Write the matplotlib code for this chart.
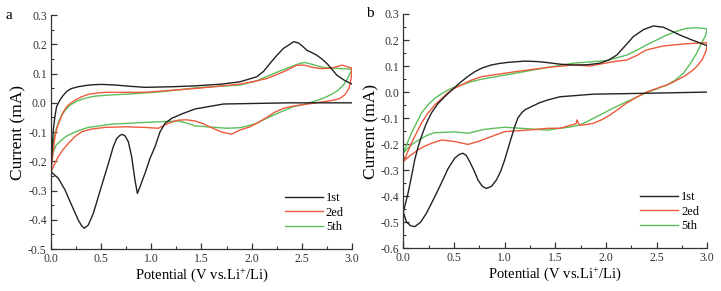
import matplotlib
matplotlib.use('Agg')
import matplotlib.pyplot as plt
from matplotlib.ticker import MultipleLocator, FormatStrFormatter

plt.rcParams['font.family'] = ['Liberation Serif', 'DejaVu Serif']
plt.rcParams['mathtext.default'] = 'regular'

# panel a: each cycle swept 3.0 -> 0.0 (cathodic) then 0.0 -> 3.0 (anodic)
a_1st_v = [3.0, 2.38, 1.72, 1.436, 1.303, 1.203, 1.137, 1.087, 1.037, 0.987, 0.937, 0.887,
           0.861, 0.837, 0.804, 0.771, 0.738, 0.711, 0.688, 0.655, 0.621, 0.572, 0.522,
           0.472, 0.422, 0.372, 0.332, 0.306, 0.272, 0.206, 0.14, 0.073, 0.03, 0.0,
           0.01, 0.023, 0.04, 0.056, 0.09, 0.123, 0.16, 0.206, 0.27, 0.339, 0.42, 0.505,
           0.64, 0.771, 0.937, 1.2, 1.436, 1.7, 1.884, 2.05, 2.12, 2.183, 2.25, 2.316,
           2.38, 2.416, 2.466, 2.51, 2.549, 2.6, 2.649, 2.7, 2.749, 2.8, 2.848, 2.92, 3.0]
a_1st_i = [0.0, 0.0, -0.004, -0.021, -0.038, -0.053, -0.070, -0.099, -0.150, -0.190, -0.241, -0.287,
           -0.310, -0.264, -0.184, -0.133, -0.113, -0.108, -0.111, -0.122, -0.150, -0.208, -0.264,
           -0.321, -0.378, -0.418, -0.429, -0.421, -0.401, -0.350, -0.298, -0.258, -0.245, -0.236,
           -0.17, -0.093, -0.045, -0.013, 0.010, 0.026, 0.040, 0.049, 0.055, 0.059, 0.062, 0.063,
           0.061, 0.057, 0.053, 0.055, 0.058, 0.064, 0.072, 0.089, 0.108, 0.135, 0.162, 0.186,
           0.200, 0.209, 0.205, 0.193, 0.180, 0.172, 0.163, 0.150, 0.135, 0.115, 0.095, 0.078, 0.064]

a_2ed_v = [3.0, 2.99, 2.97, 2.93, 2.88, 2.80, 2.715, 2.60, 2.48, 2.40, 2.316, 2.23, 2.15,
           2.07, 1.984, 1.884, 1.80, 1.70, 1.60, 1.52, 1.436, 1.35, 1.27, 1.17, 1.07, 0.937,
           0.738, 0.538, 0.40, 0.306, 0.24, 0.173, 0.12, 0.073, 0.035, 0.0,
           0.02, 0.04, 0.06, 0.09, 0.12, 0.156, 0.2, 0.239, 0.3, 0.372, 0.45, 0.538, 0.937,
           1.436, 1.884, 2.02, 2.15, 2.23, 2.316, 2.40, 2.45, 2.52, 2.615, 2.70, 2.78,
           2.85, 2.90, 2.95, 3.0]
a_2ed_i = [0.118, 0.08, 0.05, 0.028, 0.015, 0.008, 0.004, -0.002, -0.008, -0.012, -0.019, -0.032, -0.050,
           -0.066, -0.082, -0.093, -0.107, -0.100, -0.085, -0.072, -0.062, -0.058, -0.059, -0.070, -0.087, -0.084,
           -0.082, -0.084, -0.090, -0.099, -0.115, -0.139, -0.160, -0.184, -0.21, -0.236,
           -0.17, -0.116, -0.085, -0.059, -0.033, -0.013, 0.0, 0.009, 0.020, 0.029, 0.033, 0.036, 0.036,
           0.049, 0.064, 0.073, 0.083, 0.094, 0.106, 0.120, 0.129, 0.129, 0.121, 0.117, 0.118,
           0.124, 0.129, 0.124, 0.118]

a_5th_v = [3.0, 2.98, 2.95, 2.915, 2.85, 2.78, 2.70, 2.615, 2.52, 2.416, 2.32, 2.217, 2.13,
           2.05, 1.96, 1.884, 1.75, 1.60, 1.436, 1.35, 1.27, 0.937, 0.605, 0.372, 0.29, 0.206,
           0.15, 0.106, 0.05, 0.0,
           0.02, 0.04, 0.07, 0.106, 0.15, 0.19, 0.25, 0.306, 0.37, 0.439, 0.6, 0.771, 1.104,
           1.436, 1.884, 2.05, 2.217, 2.35, 2.48, 2.53, 2.62, 2.715, 2.85, 3.0]
a_5th_i = [0.115, 0.10, 0.08, 0.061, 0.04, 0.026, 0.014, 0.004, -0.005, -0.013, -0.027, -0.042, -0.056,
           -0.070, -0.079, -0.085, -0.087, -0.083, -0.079, -0.069, -0.062, -0.067, -0.073, -0.084, -0.093, -0.105,
           -0.115, -0.127, -0.145, -0.19,
           -0.14, -0.105, -0.070, -0.042, -0.022, -0.008, 0.004, 0.012, 0.018, 0.023, 0.027, 0.030, 0.038,
           0.051, 0.061, 0.075, 0.100, 0.118, 0.135, 0.138, 0.130, 0.121, 0.118, 0.115]

# panel b
b_1st_v = [3.0, 2.34, 1.875, 1.546, 1.428, 1.35, 1.263, 1.2, 1.165, 1.13, 1.099, 1.05,
           1.0, 0.96, 0.918, 0.87, 0.819, 0.78, 0.737, 0.70, 0.655, 0.62, 0.589, 0.55,
           0.507, 0.44, 0.375, 0.30, 0.227, 0.17, 0.112, 0.07, 0.03, 0.0,
           0.02, 0.046, 0.08, 0.112, 0.145, 0.178, 0.225, 0.276, 0.34, 0.408, 0.49, 0.572,
           0.64, 0.704, 0.78, 0.868, 0.95, 1.033, 1.198, 1.33, 1.428, 1.55, 1.678, 1.82,
           1.941, 2.03, 2.106, 2.19, 2.27, 2.37, 2.467, 2.566, 2.65, 2.73, 2.85, 3.0]
b_1st_i = [0.0, -0.005, -0.008, -0.018, -0.030, -0.040, -0.056, -0.068, -0.081, -0.100, -0.133, -0.195,
           -0.261, -0.305, -0.338, -0.362, -0.370, -0.362, -0.338, -0.303, -0.267, -0.243, -0.235, -0.240,
           -0.254, -0.295, -0.350, -0.410, -0.466, -0.500, -0.517, -0.513, -0.498, -0.46,
           -0.43, -0.389, -0.325, -0.261, -0.212, -0.171, -0.122, -0.081, -0.045, -0.018, 0.012, 0.040,
           0.061, 0.078, 0.093, 0.104, 0.110, 0.114, 0.119, 0.117, 0.113, 0.107, 0.104, 0.105,
           0.111, 0.124, 0.142, 0.178, 0.213, 0.240, 0.254, 0.249, 0.234, 0.219, 0.200, 0.178]

b_2ed_v = [3.0, 2.99, 2.95, 2.90, 2.86, 2.78, 2.70, 2.62, 2.53, 2.40, 2.30, 2.20, 2.12,
           2.04, 1.96, 1.875, 1.80, 1.74, 1.712, 1.705, 1.69, 1.546, 1.428, 1.263, 1.0,
           0.868, 0.737, 0.638, 0.507, 0.375, 0.276, 0.21, 0.145, 0.07, 0.0,
           0.04, 0.079, 0.13, 0.178, 0.24, 0.31, 0.38, 0.441, 0.5, 0.572, 0.66, 0.77,
           1.099, 1.428, 1.678, 1.842, 2.072, 2.204, 2.30, 2.40, 2.566, 2.763, 3.0]
b_2ed_i = [0.19, 0.16, 0.125, 0.10, 0.085, 0.062, 0.046, 0.030, 0.018, 0.0, -0.020, -0.043, -0.066,
           -0.088, -0.106, -0.120, -0.125, -0.127, -0.107, -0.122, -0.123, -0.139, -0.139, -0.145, -0.152,
           -0.171, -0.190, -0.201, -0.190, -0.184, -0.197, -0.208, -0.222, -0.243, -0.267,
           -0.232, -0.197, -0.157, -0.120, -0.082, -0.050, -0.024, -0.002, 0.013, 0.027, 0.044, 0.059,
           0.078, 0.095, 0.104, 0.100, 0.117, 0.123, 0.140, 0.162, 0.177, 0.185, 0.19]

b_5th_v = [3.0, 2.98, 2.94, 2.895, 2.83, 2.763, 2.68, 2.60, 2.5, 2.40, 2.29, 2.17, 2.05,
           1.941, 1.84, 1.744, 1.65, 1.546, 1.428, 1.0, 0.803, 0.638, 0.507, 0.31, 0.24,
           0.178, 0.12, 0.079, 0.04, 0.0,
           0.04, 0.079, 0.13, 0.178, 0.24, 0.31, 0.38, 0.441, 0.5, 0.572, 0.66, 0.77,
           1.099, 1.428, 1.678, 2.007, 2.204, 2.30, 2.40, 2.50, 2.60, 2.70, 2.797, 2.9, 3.0]
b_5th_i = [0.243, 0.215, 0.185, 0.149, 0.108, 0.072, 0.045, 0.027, 0.012, -0.002, -0.022, -0.043, -0.066,
           -0.088, -0.108, -0.126, -0.134, -0.139, -0.146, -0.135, -0.143, -0.158, -0.153, -0.156, -0.165,
           -0.178, -0.192, -0.203, -0.217, -0.234,
           -0.195, -0.158, -0.118, -0.081, -0.050, -0.024, -0.006, 0.008, 0.018, 0.027, 0.039, 0.049,
           0.072, 0.095, 0.111, 0.121, 0.142, 0.160, 0.181, 0.200, 0.219, 0.234, 0.245, 0.247, 0.243]

labels = ['1st', '2ed', '5th']
colors = ['#222222', '#ee5a3c', '#5cbf5c']

fig = plt.figure(figsize=(7.21, 2.91), dpi=100)
ax_a = fig.add_axes([0.0707, 0.1443, 0.4175, 0.8037])
ax_b = fig.add_axes([0.5594, 0.1467, 0.4216, 0.8053])

panels = [
    (ax_a, [(a_1st_v, a_1st_i), (a_2ed_v, a_2ed_i), (a_5th_v, a_5th_i)], (-0.5, 0.3), 'a'),
    (ax_b, [(b_1st_v, b_1st_i), (b_2ed_v, b_2ed_i), (b_5th_v, b_5th_i)], (-0.6, 0.3), 'b'),
]

for ax, curves, ylim, letter in panels:
    # draw 5th and 2ed under 1st like the original
    for (v, i), lab, col in reversed(list(zip(curves, labels, colors))):
        ax.plot(v, i, color=col, lw=1.0, label=lab)
    ax.set_xlim(0, 3.0)
    ax.set_ylim(*ylim)
    ax.xaxis.set_major_locator(MultipleLocator(0.5))
    ax.xaxis.set_minor_locator(MultipleLocator(0.25))
    ax.yaxis.set_major_locator(MultipleLocator(0.1))
    ax.yaxis.set_minor_locator(MultipleLocator(0.05))
    ax.xaxis.set_major_formatter(FormatStrFormatter('%.1f'))
    ax.yaxis.set_major_formatter(FormatStrFormatter('%.1f'))
    for s in ['top', 'right']:
        ax.spines[s].set_visible(False)
    for s in ['left', 'bottom']:
        ax.spines[s].set_color('#333333')
        ax.spines[s].set_linewidth(0.9)
    ax.tick_params(which='both', direction='in', colors='#333333', labelsize=8.5, pad=3)
    ax.tick_params(which='major', length=4, width=0.9)
    ax.tick_params(which='minor', length=2.5, width=0.8)
    ax.set_ylabel('Current (mA)', fontsize=12.5, labelpad=1)
    ax.set_xlabel('Potential (V vs.Li$^{+}$/Li)', fontsize=10.5, labelpad=1)
    handles, labs = ax.get_legend_handles_labels()
    ax.legend(handles[::-1], labs[::-1], loc='lower right', bbox_to_anchor=(1.01, 0.02),
              frameon=False, fontsize=9, handlelength=3.0, handletextpad=0.25,
              labelspacing=0.2)
    ax.text(-0.14 if letter == 'a' else -0.11, 1.0, letter, transform=ax.transAxes,
            fontsize=11, va='center', ha='center')

fig.savefig('out.png', dpi=100)
